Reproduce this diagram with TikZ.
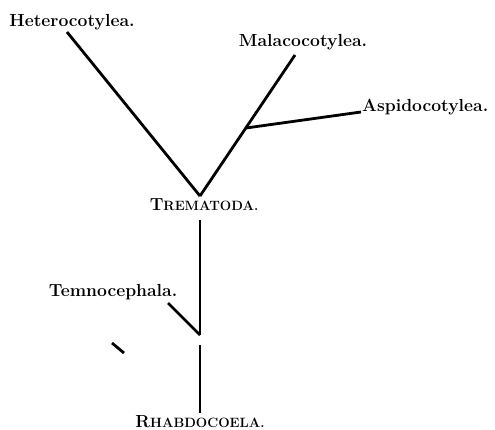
\documentclass[tikz,border=0pt]{standalone}
\usepackage{tikz}
\usetikzlibrary{positioning,calc}

\newcommand{\capsm}[2]{#1{\fontsize{13.5}{15}\selectfont #2}}

\begin{document}
\begin{tikzpicture}[x=1pt,y=-1pt,
    lbl/.style={font=\fontsize{17.5}{20}\selectfont\bfseries,inner sep=0pt},
    br/.style={line width=2.8pt}]
  \useasboundingbox (0,0) rectangle (495,430);
  % taxa
  \node[lbl] (het) at (72,22) {Heterocotylea.};
  \node[lbl] (mal) at (303,42) {Malacocotylea.};
  \node[lbl,anchor=west] (asp) at (362,107) {Aspidocotylea.};
  \node[lbl] (trem) at (204,205) {\capsm{T}{REMATODA.}};
  \node[lbl] (temn) at (113,292) {Temnocephala.};
  \node[lbl,anchor=base] (rhab) at (200,427) {\capsm{R}{HABDOCOELA.}};
  % branch points
  \coordinate (v) at (200,196);
  \coordinate (hetEnd) at (67,32);
  \coordinate (malEnd) at (295,55);
  \coordinate (aspFork) at (246,128);
  \coordinate (aspEnd) at (361,112);
  \coordinate (tremTop) at (200,220);
  \coordinate (temnFork) at (200,335);
  \coordinate (temnEnd) at (168,303);
  \coordinate (rhabTop) at (200,345);
  \coordinate (rhabEnd) at (200,413);
  \coordinate (dashA) at (112,343);
  \coordinate (dashB) at (124,353);
  \foreach \a/\b in {hetEnd/v,malEnd/v,aspFork/aspEnd,tremTop/temnFork,
                     temnEnd/temnFork,rhabTop/rhabEnd,dashA/dashB}
    \draw[br] (\a) -- (\b);
\end{tikzpicture}
\end{document}
